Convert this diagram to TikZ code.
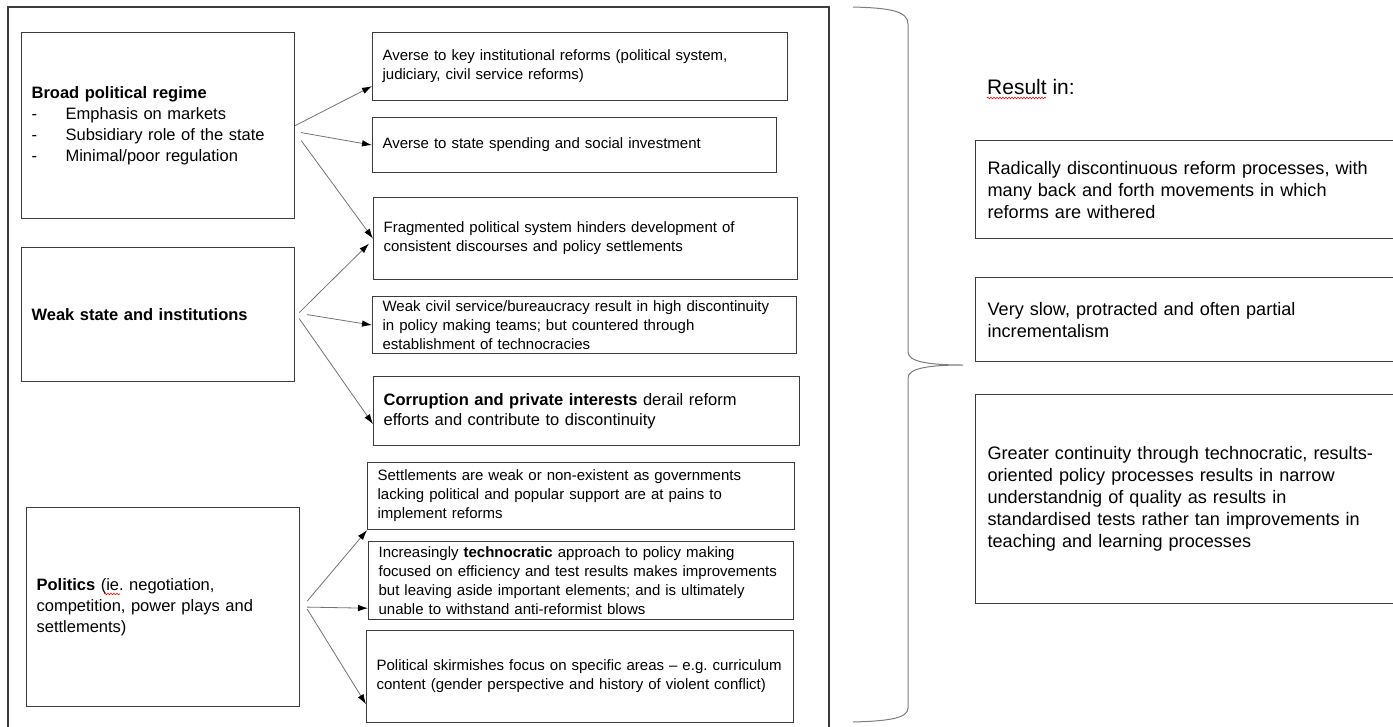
\documentclass[tikz,border=0pt]{standalone}
\usepackage{fontspec}
\setmainfont{Liberation Sans}
\usetikzlibrary{arrows.meta,decorations.pathmorphing}
\definecolor{boxgray}{RGB}{60,60,60}
\definecolor{arrowgray}{RGB}{115,115,115}
\definecolor{bracegray}{RGB}{125,125,125}
\newcommand{\leftfont}{\fontsize{16.5}{21}\selectfont}
\newcommand{\midfont}{\fontsize{15}{19}\selectfont}
\newcommand{\rightfont}{\fontsize{18.1}{22}\selectfont}
\newcommand{\dashitem}{\makebox[34pt][l]{-}}
\frenchspacing

\begin{document}
\begin{tikzpicture}[x=1pt,y=-1pt,
    box/.style={draw=boxgray,line width=1.2pt,anchor=north west,align=left,inner xsep=10pt,inner ysep=2pt},
    link/.style={draw=arrowgray,line width=0.8pt,-{Latex[length=10pt,width=6.5pt,color=black]}}]
  \useasboundingbox (0,0) rectangle (1393,726);
  \clip (0,0) rectangle (1393,726);
  % frame round causes and effects
  \draw[boxgray,line width=1.2pt] (8,7) rectangle (829,740);
  % causes
  \node[box,text width=253pt,minimum height=186pt,font=\leftfont] (regime) at (21,32)
    {\textbf{Broad political regime}\\ \dashitem Emphasis on markets\\ \dashitem Subsidiary role of the state\\ \dashitem Minimal/poor regulation};
  \node[box,text width=253pt,minimum height=134pt,font=\leftfont] (state) at (21,247)
    {\textbf{Weak state and institutions}};
  \node[box,text width=253pt,minimum height=199pt,font=\leftfont] (pol) at (26,507)
    {\textbf{Politics} (ie. negotiation,\\ competition, power plays and\\ settlements)};
  % effects
  \node[box,text width=395pt,minimum height=68pt,font=\midfont] (m1) at (372,32)
    {Averse to key institutional reforms (political system,\\ judiciary, civil service reforms)};
  \node[box,text width=384pt,minimum height=55pt,font=\midfont] (m2) at (372,117)
    {Averse to state spending and social investment};
  \node[box,text width=404pt,minimum height=82pt,font=\midfont] (m3) at (373,197)
    {Fragmented political system hinders development of\\ consistent discourses and policy settlements};
  \node[box,text width=404pt,minimum height=57pt,font=\midfont] (m4) at (372,296)
    {Weak civil service/bureaucracy result in high discontinuity\\ in policy making teams; but countered through\\ establishment of technocracies};
  \node[box,text width=406pt,minimum height=69pt,font=\fontsize{16.5}{20}\selectfont] (m5) at (373,376)
    {\textbf{Corruption and private interests} derail reform\\ efforts and contribute to discontinuity};
  \node[box,text width=407pt,minimum height=67pt,font=\midfont] (m6) at (367,462)
    {Settlements are weak or non-existent as governments\\ lacking political and popular support are at pains to\\ implement reforms};
  \node[box,text width=405pt,minimum height=78pt,font=\midfont] (m7) at (368,541)
    {Increasingly \textbf{technocratic} approach to policy making\\ focused on efficiency and test results makes improvements\\ but leaving aside important elements; and is ultimately\\ unable to withstand anti-reformist blows};
  \node[box,text width=407pt,minimum height=92pt,font=\midfont] (m8) at (366,630)
    {Political skirmishes focus on specific areas -- e.g. curriculum\\ content (gender perspective and history of violent conflict)};
  % arrows
  \draw[link] (regime.east) -- ([yshift=15pt]m1.south west);
  \draw[link] ([xshift=6pt,yshift=-7pt]regime.east) -- (m2.west);
  \draw[link] ([xshift=6pt,yshift=-15pt]regime.east) -- (m3.west);
  \draw[link] ([xshift=4pt,yshift=2pt]state.east) -- ([xshift=-4pt,yshift=-5pt]m3.west);
  \draw[link] ([xshift=12pt]state.east) -- (m4.west);
  \draw[link] ([xshift=4pt,yshift=-4pt]state.east) -- ([yshift=-13pt]m5.west);
  \draw[link] ([xshift=7pt,yshift=6pt]pol.east) -- (m6.south west);
  \draw[link] ([xshift=7pt]pol.east) -- ([yshift=12pt]m7.south west);
  \draw[link] ([xshift=7pt,yshift=-2pt]pol.east) -- ([yshift=19pt]m8.south west);
  % brace
  \draw[bracegray,line width=1pt] (853,7) .. controls (890,8) and (908,11) .. (908,24) -- (908,352)
    .. controls (908,362) and (930,365) .. (963,365) .. controls (930,365) and (908,368) .. (908,378)
    -- (908,708) .. controls (908,718) and (890,721) .. (853,722);
  % results
  \node[anchor=west,inner sep=0pt,font=\fontsize{21}{25}\selectfont] (result) at (987,87) {Result in:};
  \node[box,inner xsep=12pt,text width=425pt,minimum height=98pt,font=\rightfont] (r1) at (975,140)
    {Radically discontinuous reform processes, with\\ many back and forth movements in which\\ reforms are withered};
  \node[box,inner xsep=12pt,text width=425pt,minimum height=84pt,font=\rightfont] (r2) at (975,277)
    {Very slow, protracted and often partial\\ incrementalism};
  \node[box,inner xsep=12pt,text width=425pt,minimum height=209pt,font=\rightfont] (r3) at (975,394)
    {Greater continuity through technocratic, results-\\ oriented policy processes results in narrow\\ understandnig of quality as results in\\ standardised tests rather tan improvements in\\ teaching and learning processes};
  % spell check marks
  \draw[red,line width=0.6pt,decorate,decoration={snake,amplitude=0.8pt,segment length=3pt}] (987,98) -- (1046,98);
  \draw[red,line width=0.6pt,decorate,decoration={snake,amplitude=0.8pt,segment length=3pt}] (104,594) -- (120,594);
\end{tikzpicture}
\end{document}
